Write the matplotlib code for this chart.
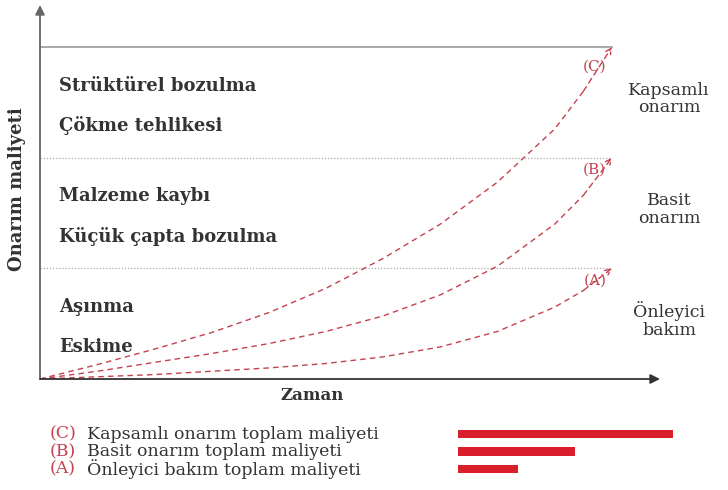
import matplotlib.pyplot as plt
from matplotlib.transforms import blended_transform_factory

plt.rcParams['font.family'] = ['DejaVu Serif']

# time axis and the three cost curves
zaman = [0, 1, 2, 3, 4, 5, 6, 7, 8, 9, 9.5, 10]
maliyet_c = [0, 0.13, 0.27, 0.42, 0.60, 0.82, 1.09, 1.40, 1.78, 2.26, 2.60, 3.0]
maliyet_b = [0, 0.07, 0.15, 0.23, 0.32, 0.43, 0.57, 0.76, 1.02, 1.40, 1.66, 2.0]
maliyet_a = [0, 0.02, 0.04, 0.07, 0.10, 0.14, 0.20, 0.29, 0.43, 0.65, 0.80, 1.0]
egri_etiket = ['(C)', '(B)', '(A)']
seviyeler = [1, 2, 3]

bolge_sol = [['Aşınma', 'Eskime'],
             ['Malzeme kaybı', 'Küçük çapta bozulma'],
             ['Strüktürel bozulma', 'Çökme tehlikesi']]
bolge_sag = ['Önleyici\nbakım', 'Basit\nonarım', 'Kapsamlı\nonarım']

toplam_etiket = ['(C)', '(B)', '(A)']
toplam_metin = ['Kapsamlı onarım toplam maliyeti',
                'Basit onarım toplam maliyeti',
                'Önleyici bakım toplam maliyeti']
toplam_deger = [10, 5.45, 2.8]

red = '#c4424f'
dark = '#333333'

fig = plt.figure(figsize=(7.28, 4.9), dpi=100)
ax = fig.add_axes([40 / 728, 111 / 490, 620 / 728, 374 / 490])
ax.set_xlim(0, 10.84)
ax.set_ylim(0, 3.38)
for s in ax.spines.values():
    s.set_visible(False)
ax.set_xticks([])
ax.set_yticks([])

# axes with arrows
ax.annotate('', xy=(0, 3.38), xytext=(0, 0),
            arrowprops=dict(arrowstyle='-|>', color='#666666', lw=1.3,
                            mutation_scale=14, shrinkA=0, shrinkB=0))
ax.annotate('', xy=(10.84, 0), xytext=(0, 0),
            arrowprops=dict(arrowstyle='-|>', color='#333333', lw=1.3,
                            mutation_scale=14, shrinkA=0, shrinkB=0))

# band lines
ax.plot([0, 10], [3, 3], color='#999999', lw=1.2)
for lv in seviyeler[:2]:
    ax.plot([0, 10], [lv, lv], color='#aaaaaa', lw=0.9, ls=(0, (1, 1.5)))

# curves
for vals, lab, dy in zip([maliyet_c, maliyet_b, maliyet_a], egri_etiket,
                         [0.18, 0.11, 0.11]):
    ax.plot(zaman[:-1], vals[:-1], color=red, lw=1.0, ls=(0, (4, 3)))
    ax.annotate('', xy=(zaman[-1], vals[-1]), xytext=(zaman[-2], vals[-2]),
                arrowprops=dict(arrowstyle='->', color=red, lw=1.0,
                                ls=(0, (4, 3)), shrinkA=0, shrinkB=0))
    ax.text(zaman[-1] - 0.3, vals[-1] - dy, lab, color=red,
            fontsize=11, ha='center', va='center')

# zone labels
for i, (a, b) in enumerate(bolge_sol):
    ax.text(0.33, i + 0.65, a, fontsize=13, fontweight='bold', color=dark,
            va='center', ha='left')
    ax.text(0.33, i + 0.29, b, fontsize=13, fontweight='bold', color=dark,
            va='center', ha='left')
for i, t in enumerate(bolge_sag):
    ax.text(11.0, i + 0.53, t, fontsize=12.5, color=dark, ha='center',
            va='center', linespacing=1.05)

ax.text(-0.25, 1.72, 'Onarım maliyeti', rotation=90, fontsize=13,
        fontweight='bold', color=dark, ha='right', va='center')
ax.text(4.75, -0.15, 'Zaman', fontsize=12, fontweight='bold', color=dark,
        ha='center', va='center')

# total cost bars
ax2 = fig.add_axes([458 / 728, 12.25 / 490, 215 / 728, 52.5 / 490])
ax2.barh(range(3), toplam_deger, height=0.46, color='#d91f2b')
ax2.set_xlim(0, 10)
ax2.set_ylim(2.5, -0.5)
ax2.axis('off')
tr = blended_transform_factory(fig.transFigure, ax2.transData)
for i in range(3):
    ax2.text(50 / 728, i, toplam_etiket[i], color=red, fontsize=12.5,
             transform=tr, va='center', ha='left')
    ax2.text(87 / 728, i, toplam_metin[i], color=dark, fontsize=12.5,
             transform=tr, va='center', ha='left')

fig.savefig('out.png', dpi=100)
